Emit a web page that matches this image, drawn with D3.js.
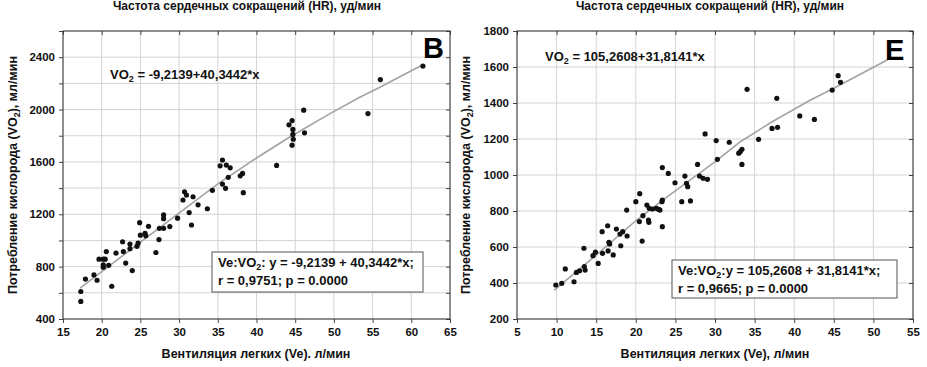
<!DOCTYPE html>
<html>
<head>
<meta charset="utf-8">
<script src="https://cdn.jsdelivr.net/npm/d3@7"></script>
<style>
  body { margin: 0; background: #fff; }
  svg { display: block; font-family: 'Liberation Sans', Arial, sans-serif; font-weight: bold; }
</style>
</head>
<body>
<div id="container"></div>
<script>
// Panel B: Ve vs VO2 (HR group)
const leftVe = [17.3, 17.3, 17.9, 19.0, 19.4, 19.65, 20.2, 20.2, 20.2, 20.45, 20.6, 20.9, 21.3, 21.85, 22.7, 22.8, 23.1, 23.65, 23.65, 23.95, 24.55, 24.7, 24.9, 25.0, 25.6, 25.7, 26.05, 27.0, 27.4, 27.45, 28.0, 28.0, 28.0, 28.8, 29.8, 30.5, 30.7, 30.95, 31.3, 31.6, 31.8, 32.45, 33.65, 34.3, 35.3, 35.6, 35.6, 36.0, 36.1, 36.35, 36.6, 37.9, 38.2, 38.3, 42.6, 44.2, 44.6, 44.7, 44.7, 44.75, 44.6, 46.1, 46.2, 54.4, 56.0, 61.5];
const leftVO2 = [610, 534, 705, 737, 696, 857, 857, 814, 796, 857, 915, 810, 650, 903, 990, 915, 827, 972, 937, 770, 955, 979, 1136, 1040, 1055, 1035, 1108, 908, 1007, 1093, 1195, 1166, 1093, 1106, 1170, 1309, 1372, 1347, 1213, 1118, 1334, 1272, 1242, 1383, 1570, 1614, 1431, 1398, 1576, 1482, 1555, 1494, 1512, 1365, 1573, 1883, 1916, 1848, 1810, 1773, 1728, 1995, 1822, 1969, 2229, 2332];
const leftFitVe = [17.2, 26.2, 35.1, 40, 44.3, 49.5, 53.4, 56, 61.3];
const leftFitVO2 = [636, 1040, 1436, 1630, 1790, 1969, 2096, 2172, 2337];

// Panel E: Ve vs VO2
const rightVe = [9.9, 10.65, 11.1, 12.2, 12.5, 12.9, 13.45, 13.5, 13.6, 14.6, 14.9, 15.25, 15.75, 15.8, 16.45, 16.6, 16.7, 16.5, 17.15, 17.55, 18.0, 18.1, 18.35, 18.9, 18.85, 20.0, 20.5, 20.45, 20.8, 20.9, 21.4, 21.6, 21.65, 21.7, 22.1, 22.6, 22.9, 23.05, 23.3, 23.35, 23.35, 23.35, 24.1, 24.95, 25.8, 26.2, 26.4, 26.55, 26.9, 27.8, 28.05, 28.5, 29.05, 28.75, 30.15, 30.3, 31.8, 33.0, 33.2, 33.4, 33.4, 34.05, 35.5, 37.2, 37.9, 37.8, 40.7, 42.55, 44.8, 45.55, 45.85];
const rightVO2 = [389, 398, 478, 407, 459, 468, 593, 491, 472, 552, 571, 509, 685, 565, 718, 626, 617, 578, 556, 700, 672, 607, 685, 661, 805, 852, 896, 741, 633, 774, 833, 750, 737, 815, 811, 815, 809, 805, 852, 861, 713, 1041, 1009, 957, 852, 994, 954, 935, 856, 1059, 994, 982, 976, 1228, 1191, 1087, 1182, 1121, 1130, 1143, 1059, 1476, 1198, 1259, 1265, 1426, 1328, 1309, 1472, 1552, 1515];
const rightFitVe = [9.7, 15, 20.1, 23.7, 30.2, 33.2, 37, 42, 45, 51.8];
const rightFitVO2 = [360, 555, 750, 870, 1080, 1185, 1290, 1415, 1482, 1640];

// ticks
const leftXTicks = [15, 20, 25, 30, 35, 40, 45, 50, 55, 60, 65];
const leftYTicks = [400, 600, 800, 1000, 1200, 1400, 1600, 1800, 2000, 2200, 2400, 2600];
const leftYLabels = [400, 800, 1200, 1600, 2000, 2400];
const rightXTicks = [5, 10, 15, 20, 25, 30, 35, 40, 45, 50, 55];
const rightYTicks = [200, 400, 600, 800, 1000, 1200, 1400, 1600, 1800];
const rightYLabels = [200, 400, 600, 800, 1000, 1200, 1400, 1600, 1800];

const W = 927, H = 367;

const svg = d3.select('#container').append('svg')
  .attr('width', W).attr('height', H);

svg.append('defs').append('clipPath').attr('id', 'clipLeft')
  .append('rect').attr('x', 0).attr('y', 0).attr('width', 457).attr('height', H);

//>>> text with a subscript "2"
function subText(sel, before, after, size) {
  sel.append('tspan').text(before);
  sel.append('tspan').text('2').style('font-size', `${Math.round(size * 0.7)}px`).attr('dy', 3);
  sel.append('tspan').text(after).attr('dy', -3);
}

function drawPanel(p) {
  const g = svg.append('g');
  if (p.clip) g.attr('clip-path', `url(#${p.clip})`);

  const x = d3.scaleLinear().domain(p.xDomain).range([p.left, p.right]);
  const y = d3.scaleLinear().domain(p.yDomain).range([p.bottom, p.top]);

  //>>> grid
  g.append('g').selectAll('line').data(p.xTicks).enter().append('line')
    .attr('x1', d => x(d)).attr('x2', d => x(d))
    .attr('y1', p.top).attr('y2', p.bottom)
    .attr('stroke', '#d4d4d4').attr('stroke-width', 1);
  g.append('g').selectAll('line').data(p.yTicks).enter().append('line')
    .attr('x1', p.left).attr('x2', p.right)
    .attr('y1', d => y(d)).attr('y2', d => y(d))
    .attr('stroke', '#d4d4d4').attr('stroke-width', 1);

  //>>> axes
  const xAxis = d3.axisBottom(x).tickValues(p.xTicks).tickSize(4).tickPadding(5).tickFormat(d3.format('d'));
  const yAxis = d3.axisLeft(y).tickValues(p.yTicks).tickSize(4).tickPadding(4)
    .tickFormat(d => p.yLabels.includes(d) ? d : '');
  const gx = g.append('g').attr('transform', `translate(0,${p.bottom})`).call(xAxis);
  const gy = g.append('g').attr('transform', `translate(${p.left},0)`).call(yAxis);
  [gx, gy].forEach(a => {
    a.select('.domain').remove();
    a.selectAll('line').attr('stroke', '#444');
    a.selectAll('text').attr('fill', '#111').style('font-size', '11.5px').style('font-weight', 'bold')
      .style('font-family', "'Liberation Sans', Arial, sans-serif");
  });
  //--- inner ticks on top and right
  g.append('g').call(d3.axisBottom(x).tickValues(p.xTicks).tickSize(4).tickFormat(''))
    .attr('transform', `translate(0,${p.top})`)
    .call(a => { a.select('.domain').remove(); a.selectAll('line').attr('stroke', '#444'); });
  g.append('g').call(d3.axisLeft(y).tickValues(p.yTicks).tickSize(4).tickFormat(''))
    .attr('transform', `translate(${p.right},0)`)
    .call(a => { a.select('.domain').remove(); a.selectAll('line').attr('stroke', '#444'); });

  //>>> frame
  g.append('rect')
    .attr('x', p.left).attr('y', p.top)
    .attr('width', p.right - p.left).attr('height', p.bottom - p.top)
    .attr('fill', 'none').attr('stroke', '#333').attr('stroke-width', 1);

  //>>> fit line
  const fit = p.fitX.map((v, i) => [v, p.fitY[i]]);
  g.append('path')
    .attr('d', d3.line().x(d => x(d[0])).y(d => y(d[1]))(fit))
    .attr('fill', 'none').attr('stroke', '#a3a3a3').attr('stroke-width', 1.6);

  //>>> points
  const pts = p.ptsX.map((v, i) => [v, p.ptsY[i]]);
  g.append('g').selectAll('circle').data(pts).enter().append('circle')
    .attr('cx', d => x(d[0])).attr('cy', d => y(d[1])).attr('r', 2.6)
    .attr('fill', '#111');

  //>>> equation
  const eq = g.append('text').attr('x', p.eqX).attr('y', p.eqY)
    .style('font-size', '13px').attr('fill', '#111');
  subText(eq, 'VO', p.eqText, 13);

  //>>> big letter
  g.append('text').attr('x', p.letterX).attr('y', p.letterY)
    .style('font-size', '29px').attr('fill', '#000').text(p.letter);

  //>>> stats box
  g.append('rect').attr('x', p.boxX).attr('y', p.boxY)
    .attr('width', p.boxW).attr('height', p.boxH)
    .attr('fill', '#fff').attr('stroke', '#555').attr('stroke-width', 1);
  const l1 = g.append('text').attr('x', p.boxX + 6).attr('y', p.boxY + 15)
    .style('font-size', '13px').attr('fill', '#111');
  subText(l1, 'Ve:VO', p.box1, 13);
  g.append('text').attr('x', p.boxX + 6).attr('y', p.boxY + 33)
    .style('font-size', '13px').attr('fill', '#111').text(p.box2);

  //>>> axis titles
  g.append('text').attr('x', p.xTitleX).attr('y', 358)
    .attr('text-anchor', 'middle').style('font-size', '12.5px').attr('fill', '#111')
    .text(p.xTitle);
  const yt = g.append('text')
    .attr('transform', `translate(${p.yTitleX},175) rotate(-90)`)
    .attr('text-anchor', 'middle').style('font-size', '12.5px').attr('fill', '#111');
  subText(yt, 'Потребление кислорода (VO', '), мл/мин', 12.5);
  g.append('text').attr('x', p.titleX).attr('y', 10)
    .attr('text-anchor', 'middle').style('font-size', '12px').attr('fill', '#111')
    .text('Частота сердечных сокращений (HR), уд/мин');
}

drawPanel({
  clip: 'clipLeft',
  left: 63, right: 450, top: 31, bottom: 319,
  xDomain: [15, 65], yDomain: [400, 2600],
  xTicks: leftXTicks, yTicks: leftYTicks, yLabels: leftYLabels,
  ptsX: leftVe, ptsY: leftVO2, fitX: leftFitVe, fitY: leftFitVO2,
  eqX: 110, eqY: 79, eqText: ' = -9,2139+40,3442*x',
  letter: 'B', letterX: 423, letterY: 58,
  boxX: 212, boxY: 252, boxW: 211, boxH: 40,
  box1: ': y = -9,2139 + 40,3442*x;', box2: 'r = 0,9751; p = 0.0000',
  xTitle: 'Вентиляция легких (Ve). л/мин', xTitleX: 256,
  yTitleX: 17, titleX: 247
});

drawPanel({
  left: 517, right: 913, top: 31, bottom: 319,
  xDomain: [5, 55], yDomain: [200, 1800],
  xTicks: rightXTicks, yTicks: rightYTicks, yLabels: rightYLabels,
  ptsX: rightVe, ptsY: rightVO2, fitX: rightFitVe, fitY: rightFitVO2,
  eqX: 545, eqY: 61, eqText: ' = 105,2608+31,8141*x',
  letter: 'E', letterX: 885, letterY: 60,
  boxX: 672, boxY: 260, boxW: 225, boxH: 38,
  box1: ':y = 105,2608 + 31,8141*x;', box2: 'r = 0,9665; p = 0.0000',
  xTitle: 'Вентиляция легких (Ve), л/мин', xTitleX: 715,
  yTitleX: 470, titleX: 710
});
</script>
</body>
</html>
